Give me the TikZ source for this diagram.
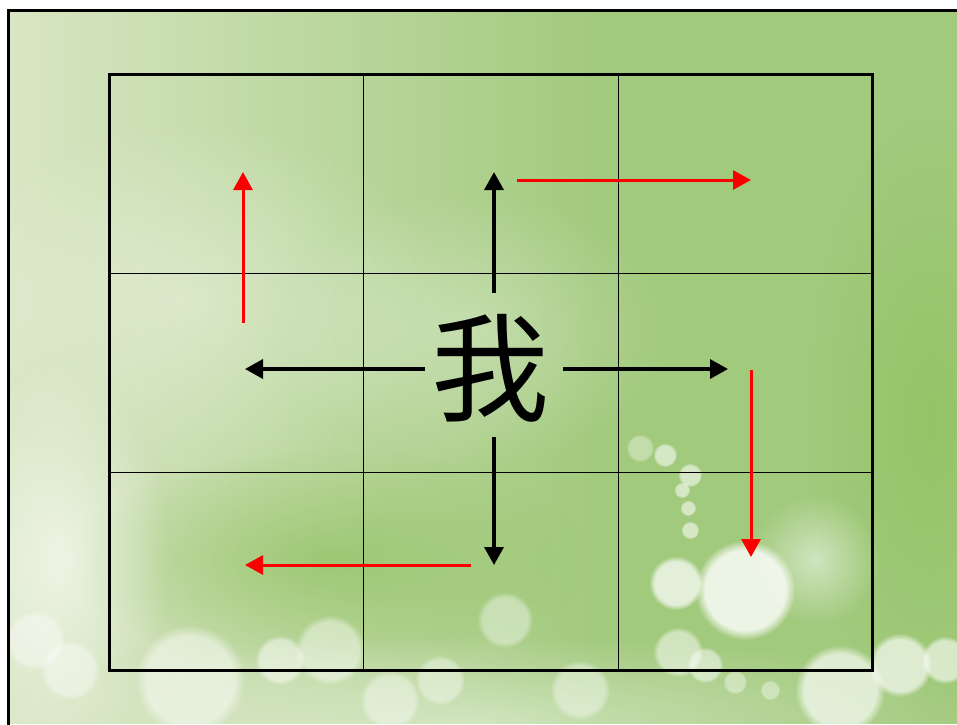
\documentclass[tikz,border=0pt]{standalone}
\usepackage{fontspec}
\newfontfamily\cjk{Noto Sans CJK SC}
\usetikzlibrary{arrows.meta,fadings}
\definecolor{bgA}{RGB}{162,202,125}
\definecolor{bgLight}{RGB}{220,232,200}
\definecolor{bgDark}{RGB}{145,194,98}
\definecolor{arrRed}{RGB}{250,0,0}
\tikzfading[name=softglow, inner color=transparent!0, outer color=transparent!100]
\tikzset{
  gridline/.style={line width=1pt,black},
  frameline/.style={line width=3pt,black},
  redarrow/.style={arrRed,line width=3pt,-{Triangle[length=18pt,width=19pt]}},
  blackarrow/.style={black,line width=3.5pt,-{Triangle[length=18pt,width=19pt]}},
  bokeh/.style={white,opacity=0.55,path fading=circle with fuzzy edge 20 percent},
  glow/.style={white,path fading=softglow}
}
\begin{document}
\begin{tikzpicture}[x=1pt,y=-1pt]
\useasboundingbox (0,0) rectangle (957,724);
% background
\fill[white] (0,0) rectangle (957,724);
\fill[bgA] (8,10) rectangle (957,724);
\fill[bgLight,path fading=east,opacity=0.95] (8,10) rectangle (600,724);
\fill[bgDark,opacity=0.7,path fading=softglow] (330,560) ellipse (260 and 110);
\fill[bgDark,opacity=0.8,path fading=softglow] (930,420) ellipse (120 and 300);
\fill[glow,opacity=0.35] (190,300) ellipse (260 and 180);
\fill[glow,opacity=0.3] (470,330) ellipse (200 and 140);
% bottom and left whiteness
\fill[glow,opacity=0.6] (60,560) ellipse (110 and 200);
\fill[glow,opacity=0.45] (480,724) ellipse (520 and 90);
% bokeh circles
\fill[glow,opacity=0.5] (815,560) circle (65);
\fill[bokeh,opacity=0.8] (745,590) circle (50);
\fill[bokeh,opacity=0.7] (676,583) circle (27);
\fill[bokeh] (690,530) circle (9);
\fill[bokeh] (688,508) circle (8);
\fill[bokeh] (682,490) circle (8);
\fill[bokeh] (690,475) circle (12);
\fill[bokeh] (665,455) circle (12);
\fill[bokeh,opacity=0.35] (640,448) circle (14);
\fill[bokeh,opacity=0.5] (678,652) circle (25);
\fill[bokeh,opacity=0.5] (705,665) circle (18);
\fill[bokeh,opacity=0.4] (735,682) circle (12);
\fill[bokeh,opacity=0.4] (770,690) circle (10);
\fill[bokeh,opacity=0.65] (840,690) circle (45);
\fill[bokeh,opacity=0.65] (900,665) circle (32);
\fill[bokeh,opacity=0.6] (945,660) circle (24);
\fill[bokeh,opacity=0.4] (505,620) circle (28);
\fill[bokeh,opacity=0.4] (35,640) circle (30);
\fill[bokeh,opacity=0.4] (70,670) circle (30);
\fill[bokeh,opacity=0.5] (190,680) circle (55);
\fill[bokeh,opacity=0.5] (280,660) circle (25);
\fill[bokeh,opacity=0.45] (330,650) circle (35);
\fill[bokeh,opacity=0.4] (390,700) circle (30);
\fill[bokeh,opacity=0.4] (580,690) circle (30);
\fill[bokeh,opacity=0.4] (440,680) circle (25);
% outer frame (top and left only visible)
\draw[frameline] (958,10) -- (8,10) -- (8,725);
% grid
\draw[gridline] (363,74) -- (363,670);
\draw[gridline] (618,74) -- (618,670);
\draw[gridline] (109,273) -- (872,273);
\draw[gridline] (109,472) -- (872,472);
\draw[line width=3pt] (109,74) rectangle (872,670);
% character
\node[font=\cjk\fontsize{118}{118}\selectfont,inner sep=0pt] (wo) at (490,368) {我};
% coordinates
\coordinate (bu0) at (494,293); \coordinate (bu1) at (494,172);
\coordinate (bd0) at (494,437); \coordinate (bd1) at (494,565);
\coordinate (bl0) at (425,369); \coordinate (bl1) at (245,369);
\coordinate (br0) at (563,369); \coordinate (br1) at (728,369);
\coordinate (ru0) at (243,323); \coordinate (ru1) at (243,172);
\coordinate (rr0) at (517,180); \coordinate (rr1) at (751,180);
\coordinate (rd0) at (751,370); \coordinate (rd1) at (751,557);
\coordinate (rl0) at (471,565); \coordinate (rl1) at (245,565);
% arrows
\draw[blackarrow] (bu0) -- (bu1);
\draw[blackarrow] (bd0) -- (bd1);
\draw[blackarrow] (bl0) -- (bl1);
\draw[blackarrow] (br0) -- (br1);
\draw[redarrow] (ru0) -- (ru1);
\draw[redarrow] (rr0) -- (rr1);
\draw[redarrow] (rd0) -- (rd1);
\draw[redarrow] (rl0) -- (rl1);
\end{tikzpicture}
\end{document}
